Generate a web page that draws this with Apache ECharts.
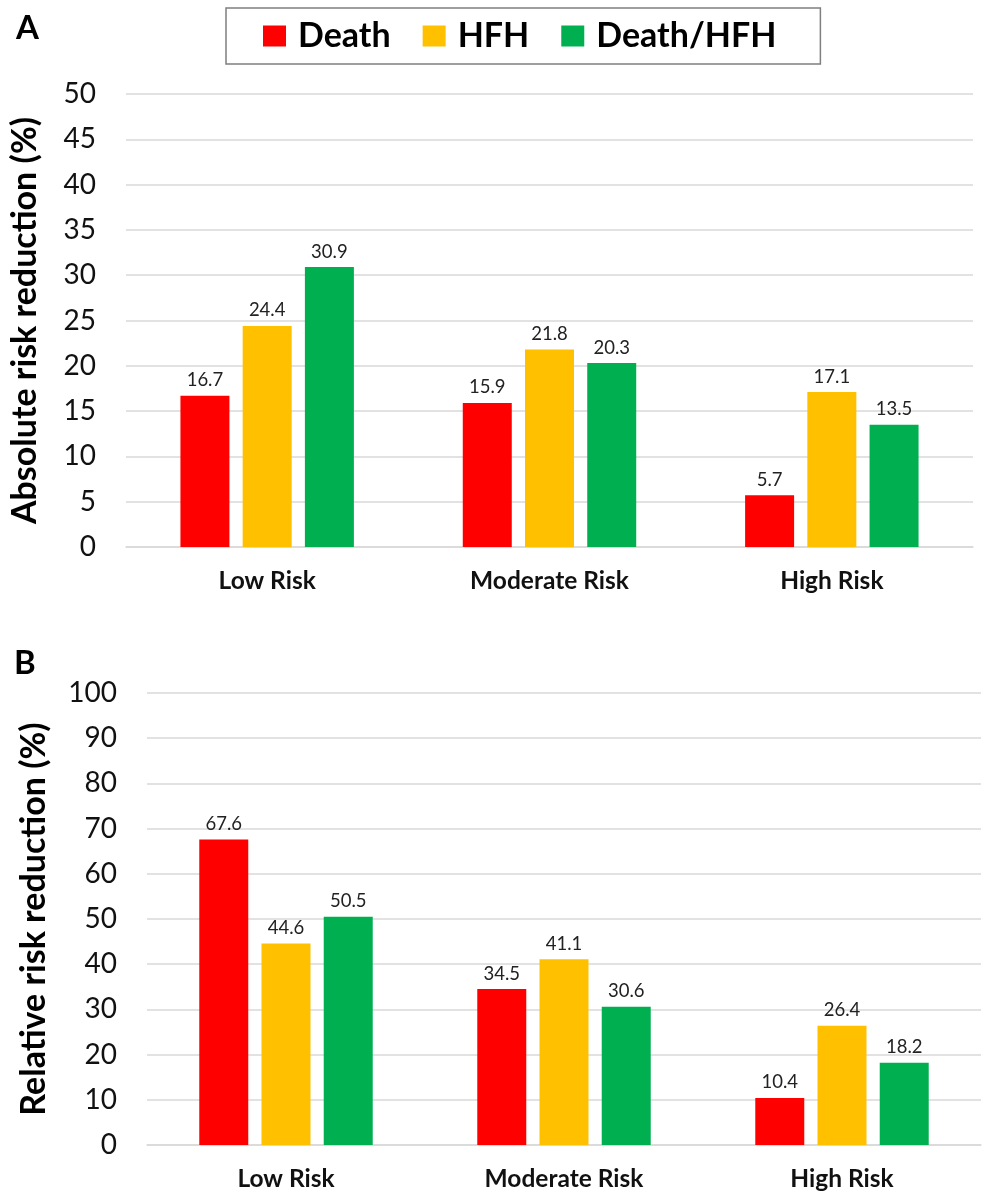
<!DOCTYPE html>
<html>
<head>
<meta charset="utf-8">
<title>Risk reduction by risk group</title>
<script src="https://cdn.jsdelivr.net/npm/echarts@6/dist/echarts.min.js"></script>
<style>
	html, body { margin: 0; padding: 0; background: #fff; }
	#chart { width: 989px; height: 1200px; }
</style>
</head>
<body>
<div id="chart"></div>
<script>
'use strict';

// categories and series names
var riskGroups = ['Low Risk', 'Moderate Risk', 'High Risk'];
var outcomeNames = ['Death', 'HFH', 'Death/HFH'];
var outcomeColors = ['#ff0000', '#ffc000', '#00b050'];

// panel A - absolute risk reduction (%)
var absDeath = [16.7, 15.9, 5.7];
var absHfh = [24.4, 21.8, 17.1];
var absDeathHfh = [30.9, 20.3, 13.5];

// panel B - relative risk reduction (%)
var relDeath = [67.6, 34.5, 10.4];
var relHfh = [44.6, 41.1, 26.4];
var relDeathHfh = [50.5, 30.6, 18.2];

var FONT = 'Lato, "Open Sans", sans-serif';

function buildXAxis(gridIndex) {
	return {
		type: 'category',
		gridIndex: gridIndex,
		data: riskGroups,
		axisLine: { lineStyle: { color: '#d9d9d9', width: 1.5 } },
		axisTick: { show: false },
		axisLabel: {
			margin: 22,
			color: '#111',
			fontFamily: FONT,
			fontWeight: 'bold',
			fontSize: 24.5
		}
	};
}

function buildYAxis(gridIndex, name, max, interval, nameGap) {
	return {
		type: 'value',
		gridIndex: gridIndex,
		min: 0,
		max: max,
		interval: interval,
		name: name,
		nameLocation: 'middle',
		nameRotate: 90,
		nameGap: nameGap,
		nameTextStyle: {
			color: '#000',
			fontFamily: FONT,
			fontWeight: 'bold',
			fontSize: 34
		},
		axisLine: { show: false },
		axisTick: { show: false },
		axisLabel: {
			margin: 30,
			color: '#111',
			fontFamily: FONT,
			fontSize: 28
		},
		splitLine: { lineStyle: { color: '#d9d9d9', width: 1.5 } }
	};
}

function buildSeries(index, values, axisIndex) {
	return {
		name: outcomeNames[index],
		type: 'bar',
		xAxisIndex: axisIndex,
		yAxisIndex: axisIndex,
		data: values,
		barWidth: 49,
		barGap: '27%',
		itemStyle: { color: outcomeColors[index] },
		label: {
			show: true,
			position: 'top',
			distance: 6,
			color: '#222',
			fontFamily: FONT,
			fontSize: 18.5
		}
	};
}

var chart = echarts.init(document.getElementById('chart'), null, { renderer: 'canvas' });

chart.setOption({
	backgroundColor: '#fff',
	animation: false,
	title: [
		{ text: 'A', left: 11, top: 7, textStyle: { fontFamily: FONT, fontWeight: 'bold', fontSize: 33, color: '#000' } },
		{ text: 'B', left: 9, top: 642, textStyle: { fontFamily: FONT, fontWeight: 'bold', fontSize: 33, color: '#000' } }
	],
	legend: {
		data: outcomeNames,
		left: 226,
		top: 8,
		padding: [11, 44, 11, 37],
		itemGap: 32,
		itemWidth: 23,
		itemHeight: 21,
		icon: 'rect',
		backgroundColor: '#fff',
		borderColor: '#7f7f7f',
		borderWidth: 1.5,
		borderRadius: 0,
		textStyle: {
			color: '#000',
			fontFamily: FONT,
			fontWeight: 'bold',
			fontSize: 34,
			padding: [0, 0, 0, 7]
		}
	},
	grid: [
		{ left: 124, right: 16, top: 94, height: 453 },
		{ left: 147, right: 8, top: 693, height: 452 }
	],
	xAxis: [buildXAxis(0), buildXAxis(1)],
	yAxis: [
		buildYAxis(0, 'Absolute risk reduction (%)', 50, 5, 84),
		buildYAxis(1, 'Relative risk reduction (%)', 100, 10, 96)
	],
	series: [
		buildSeries(0, absDeath, 0),
		buildSeries(1, absHfh, 0),
		buildSeries(2, absDeathHfh, 0),
		buildSeries(0, relDeath, 1),
		buildSeries(1, relHfh, 1),
		buildSeries(2, relDeathHfh, 1)
	]
});
</script>
</body>
</html>
